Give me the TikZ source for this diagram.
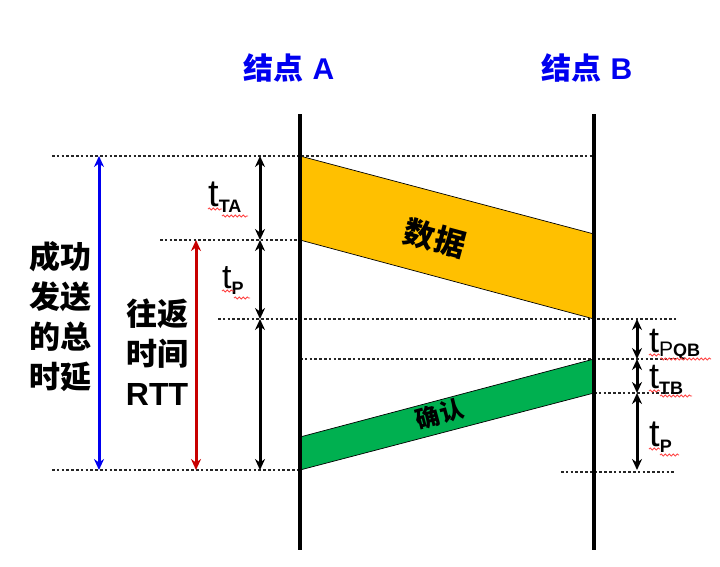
\documentclass[tikz,border=0pt]{standalone}
\usepackage{fontspec}
\setmainfont{Liberation Sans}
\newfontfamily\cjk{Noto Sans CJK SC}
\usetikzlibrary{arrows.meta, decorations.pathmorphing, positioning}

\definecolor{dataorange}{RGB}{255,192,0}
\definecolor{ackgreen}{RGB}{0,176,80}
\definecolor{nodeblue}{RGB}{0,0,240}
\definecolor{rttred}{RGB}{200,0,0}

% t with a bold subscript
\newcommand\tdelay[1]{t\raisebox{-6pt}{\fontsize{18}{18}\selectfont\bfseries #1}}

\begin{document}
\begin{tikzpicture}[x=1pt, y=-1pt,
  timeline/.style={line width=3.4pt},
  guide/.style={line width=2.8pt, black!85, dash pattern=on 2.6pt off 2.2pt},
  span/.style={line width=3pt, {Stealth[length=11pt,width=10pt]}-{Stealth[length=11pt,width=10pt]}},
  cn/.style={inner sep=0pt, align=center, font=\cjk\bfseries\fontsize{31}{40}\selectfont},
  tlabel/.style={inner sep=0pt, anchor=base west, font=\fontsize{38}{38}\selectfont},
  spell/.style={red!75, line width=0.8pt, decorate, decoration={snake, amplitude=1.1pt, segment length=4pt}}]

  \useasboundingbox (0,0) rectangle (720,566);

  % time lines of the two nodes
  \coordinate (A top) at (300,114);
  \coordinate (A bot) at (300,550);
  \coordinate (B top) at (594,114);
  \coordinate (B bot) at (594,550);

  % events
  \coordinate (A1) at (300,156);
  \coordinate (A2) at (300,240);
  \coordinate (A3) at (300,437);
  \coordinate (A4) at (300,470);
  \coordinate (B0) at (594,156);
  \coordinate (B1) at (594,234);
  \coordinate (B2) at (594,319);
  \coordinate (B3) at (594,359);
  \coordinate (B4) at (594,393);

  % data and ack frames
  \filldraw[fill=dataorange, draw=black, line width=0.7pt] (A1) -- (B1) -- (B2) -- (A2) -- cycle;
  \filldraw[fill=ackgreen, draw=black, line width=0.7pt] (B3) -- (B4) -- (A4) -- (A3) -- cycle;
  \node[cn, rotate=-15] (data) at (435,238) {数\kern1pt 据};
  \node[cn, rotate=15, font=\cjk\bfseries\fontsize{24}{24}\selectfont] (ack) at (440,414) {确\kern1pt 认};

  % dotted guides
  \coordinate (g1) at (52,156);
  \coordinate (g2) at (160,240);
  \coordinate (g3) at (218,319);
  \coordinate (g3e) at (676,319);
  \coordinate (g4e) at (676,359);
  \coordinate (g5e) at (676,393);
  \coordinate (g6) at (52,470);
  \coordinate (g7) at (561,472);
  \coordinate (g7e) at (676,472);
  \draw[guide] (g1) -- (B0);
  \draw[guide] (g2) -- (A2);
  \draw[guide] (g3) -- (g3e);
  \draw[guide] (A2 |- B3) -- (g4e);
  \draw[guide] (B4) -- (g5e);
  \draw[guide] (g6) -- (A4);
  \draw[guide] (g7) -- (g7e);

  \draw[timeline] (A top) -- (A bot);
  \draw[timeline] (B top) -- (B bot);

  \node[inner sep=0pt, text=nodeblue] (nA) at (289,68)
    {{\cjk\bfseries\fontsize{30}{30}\selectfont 结点}\hspace{9pt}{\bfseries\fontsize{30}{30}\selectfont A}};
  \node[inner sep=0pt, text=nodeblue] (nB) at (587,68)
    {{\cjk\bfseries\fontsize{30}{30}\selectfont 结点}\hspace{9pt}{\bfseries\fontsize{30}{30}\selectfont B}};

  % total delay and RTT
  \coordinate (tot1) at (99,156);
  \coordinate (tot2) at (99,470);
  \draw[span, nodeblue] (tot1) -- (tot2);
  \node[cn] (total) at (60,317) {成功\\发送\\的总\\时延};

  \coordinate (rtt1) at (196,240);
  \coordinate (rtt2) at (196,470);
  \draw[span, rttred] (rtt1) -- (rtt2);
  \node[cn] (rtt) at (157,352) {往返\\时间\\{\rmfamily\bfseries\fontsize{32}{40}\selectfont RTT}};

  % delays at A
  \coordinate (a1) at (260,156);
  \coordinate (a2) at (260,240);
  \coordinate (a3) at (260,319);
  \coordinate (a4) at (260,470);
  \draw[span] (a1) -- (a2);
  \draw[span] (a2) -- (a3);
  \draw[span] (a3) -- (a4);
  \node[tlabel] (tTA) at (208,206) {\tdelay{TA}};
  \node[tlabel, font=\fontsize{34}{34}\selectfont] (tPA) at (222,288) {\tdelay{P}};

  % delays at B
  \coordinate (b1) at (637,319);
  \coordinate (b2) at (637,359);
  \coordinate (b3) at (637,393);
  \coordinate (b4) at (637,470);
  \draw[span] (b1) -- (b2);
  \draw[span] (b2) -- (b3);
  \draw[span] (b3) -- (b4);
  \node[tlabel, font=\fontsize{36}{36}\selectfont] (tPQB) at (649,352)
    {t\raisebox{-4pt}{\fontsize{21}{21}\selectfont P\bfseries\fontsize{18}{18}\selectfont QB}};
  \node[tlabel, font=\fontsize{36}{36}\selectfont] (tTB) at (649,388) {\tdelay{TB}};
  \node[tlabel] (tPB) at (649,446) {\tdelay{P}};

  % spell-check marks
  \draw[spell] (208,209) -- (222,209);
  \draw[spell] (222,216) -- (248,216);
  \draw[spell] (222,291) -- (234,291);
  \draw[spell] (234,298) -- (250,298);
  \draw[spell] (649,355) -- (660,355);
  \draw[spell] (660,359) -- (711,359);
  \draw[spell] (649,391) -- (660,391);
  \draw[spell] (660,396) -- (692,396);
  \draw[spell] (649,449) -- (660,449);
  \draw[spell] (660,455) -- (679,455);
\end{tikzpicture}
\end{document}
